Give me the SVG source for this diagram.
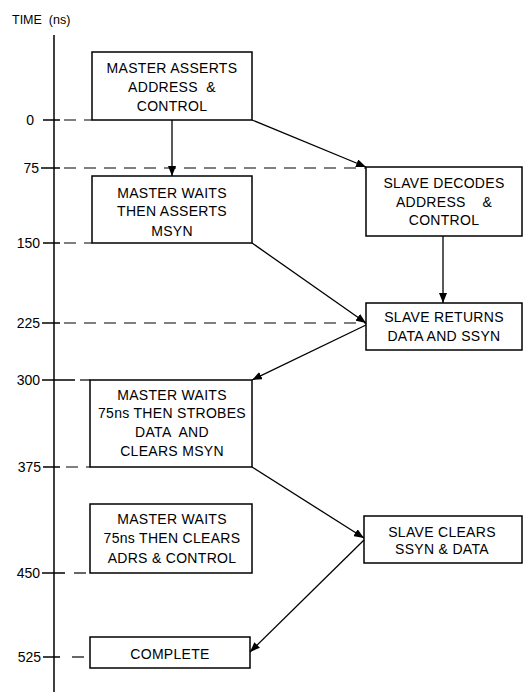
<svg xmlns="http://www.w3.org/2000/svg" width="523" height="697" viewBox="0 0 523 697">
<defs>
<marker id="ah" viewBox="0 0 10 8" refX="10" refY="4" markerWidth="10" markerHeight="8" markerUnits="userSpaceOnUse" orient="auto">
<path d="M0,0 L10,4 L0,8 Z" fill="#000"/>
</marker>
<style>
.box{fill:#fff;stroke:#000;stroke-width:1.5}
.t{font-family:"Liberation Sans",Arial,sans-serif;font-size:14px;letter-spacing:0.3px;text-anchor:middle;fill:#000;white-space:pre}
.lab{font-family:"Liberation Sans",Arial,sans-serif;font-size:14px;text-anchor:end;fill:#000}
.dash{stroke:#000;stroke-width:1.2;stroke-dasharray:12 8;fill:none}
.tick{stroke:#000;stroke-width:1.5}
.arr{stroke:#000;stroke-width:1.3;fill:none;marker-end:url(#ah)}
</style>
</defs>
<rect width="523" height="697" fill="#fff"/>
<g id="axis">
<text x="12" y="24" font-family="Liberation Sans, Arial, sans-serif" font-size="12.5" fill="#000" style="white-space:pre">TIME  (ns)</text>
<line x1="54" y1="35" x2="54" y2="692" stroke="#000" stroke-width="1.5"/>
<text class="lab" x="34" y="125">0</text>
<text class="lab" x="39" y="173">75</text>
<text class="lab" x="40" y="248">150</text>
<text class="lab" x="40" y="328">225</text>
<text class="lab" x="40" y="385">300</text>
<text class="lab" x="41" y="472">375</text>
<text class="lab" x="40" y="578">450</text>
<text class="lab" x="41" y="662">525</text>
<g class="tick">
<line x1="43" y1="120" x2="60" y2="120"/>
<line x1="41" y1="168" x2="60" y2="168"/>
<line x1="43" y1="243" x2="60" y2="243"/>
<line x1="42" y1="323" x2="60" y2="323"/>
<line x1="42" y1="380" x2="75" y2="380"/>
<line x1="43" y1="467" x2="60" y2="467"/>
<line x1="42" y1="573" x2="65" y2="573"/>
<line x1="43" y1="657" x2="60" y2="657"/>
</g>
<g class="dash">
<line x1="64" y1="120" x2="92" y2="120"/>
<line x1="64" y1="168" x2="366" y2="168"/>
<line x1="64" y1="243" x2="92" y2="243"/>
<line x1="64" y1="323" x2="366" y2="323"/>
<line x1="80" y1="380" x2="90" y2="380"/>
<line x1="66" y1="467" x2="90" y2="467"/>
<line x1="74" y1="573" x2="90" y2="573"/>
<line x1="72" y1="657" x2="90" y2="657"/>
</g>
</g>
<g id="n1">
<rect class="box" x="92" y="52" width="160" height="68"/>
<text class="t" x="172" y="73">MASTER ASSERTS</text>
<text class="t" x="172" y="92">ADDRESS  &amp;</text>
<text class="t" x="172" y="111">CONTROL</text>
</g>
<g id="n2">
<rect class="box" x="92" y="176" width="160" height="67"/>
<text class="t" x="172" y="198">MASTER WAITS</text>
<text class="t" x="172" y="216">THEN ASSERTS</text>
<text class="t" x="172" y="236">MSYN</text>
</g>
<g id="n3">
<rect class="box" x="366" y="167" width="156" height="69"/>
<text class="t" x="444" y="188">SLAVE DECODES</text>
<text class="t" x="444" y="207">ADDRESS    &amp;</text>
<text class="t" x="444" y="225">CONTROL</text>
</g>
<g id="n4">
<rect class="box" x="366" y="303" width="156" height="47"/>
<text class="t" x="444" y="322">SLAVE RETURNS</text>
<text class="t" x="444" y="341">DATA AND SSYN</text>
</g>
<g id="n5">
<rect class="box" x="90" y="380" width="162" height="87"/>
<text class="t" x="172" y="400">MASTER WAITS</text>
<text class="t" x="172" y="418">75ns THEN STROBES</text>
<text class="t" x="172" y="437">DATA  AND</text>
<text class="t" x="172" y="456">CLEARS MSYN</text>
</g>
<g id="n6">
<rect class="box" x="90" y="504" width="162" height="69"/>
<text class="t" x="172" y="524">MASTER WAITS</text>
<text class="t" x="172" y="543">75ns THEN CLEARS</text>
<text class="t" x="172" y="563">ADRS &amp; CONTROL</text>
</g>
<g id="n7">
<rect class="box" x="364" y="516" width="158" height="47"/>
<text class="t" x="442" y="537">SLAVE CLEARS</text>
<text class="t" x="442" y="554">SSYN &amp; DATA</text>
</g>
<g id="n8">
<rect class="box" x="90" y="637" width="160" height="31"/>
<text class="t" x="170" y="659">COMPLETE</text>
</g>
<g id="connectors">
<line class="arr" x1="172" y1="120" x2="172" y2="176"/>
<line class="arr" x1="252" y1="120" x2="366" y2="167"/>
<line class="arr" x1="443" y1="236" x2="443" y2="303"/>
<line class="arr" x1="252" y1="243" x2="366" y2="323"/>
<line class="arr" x1="366" y1="325" x2="252" y2="380"/>
<line class="arr" x1="252" y1="467" x2="364" y2="538"/>
<line class="arr" x1="364" y1="540" x2="250" y2="652"/>
</g>
</svg>
